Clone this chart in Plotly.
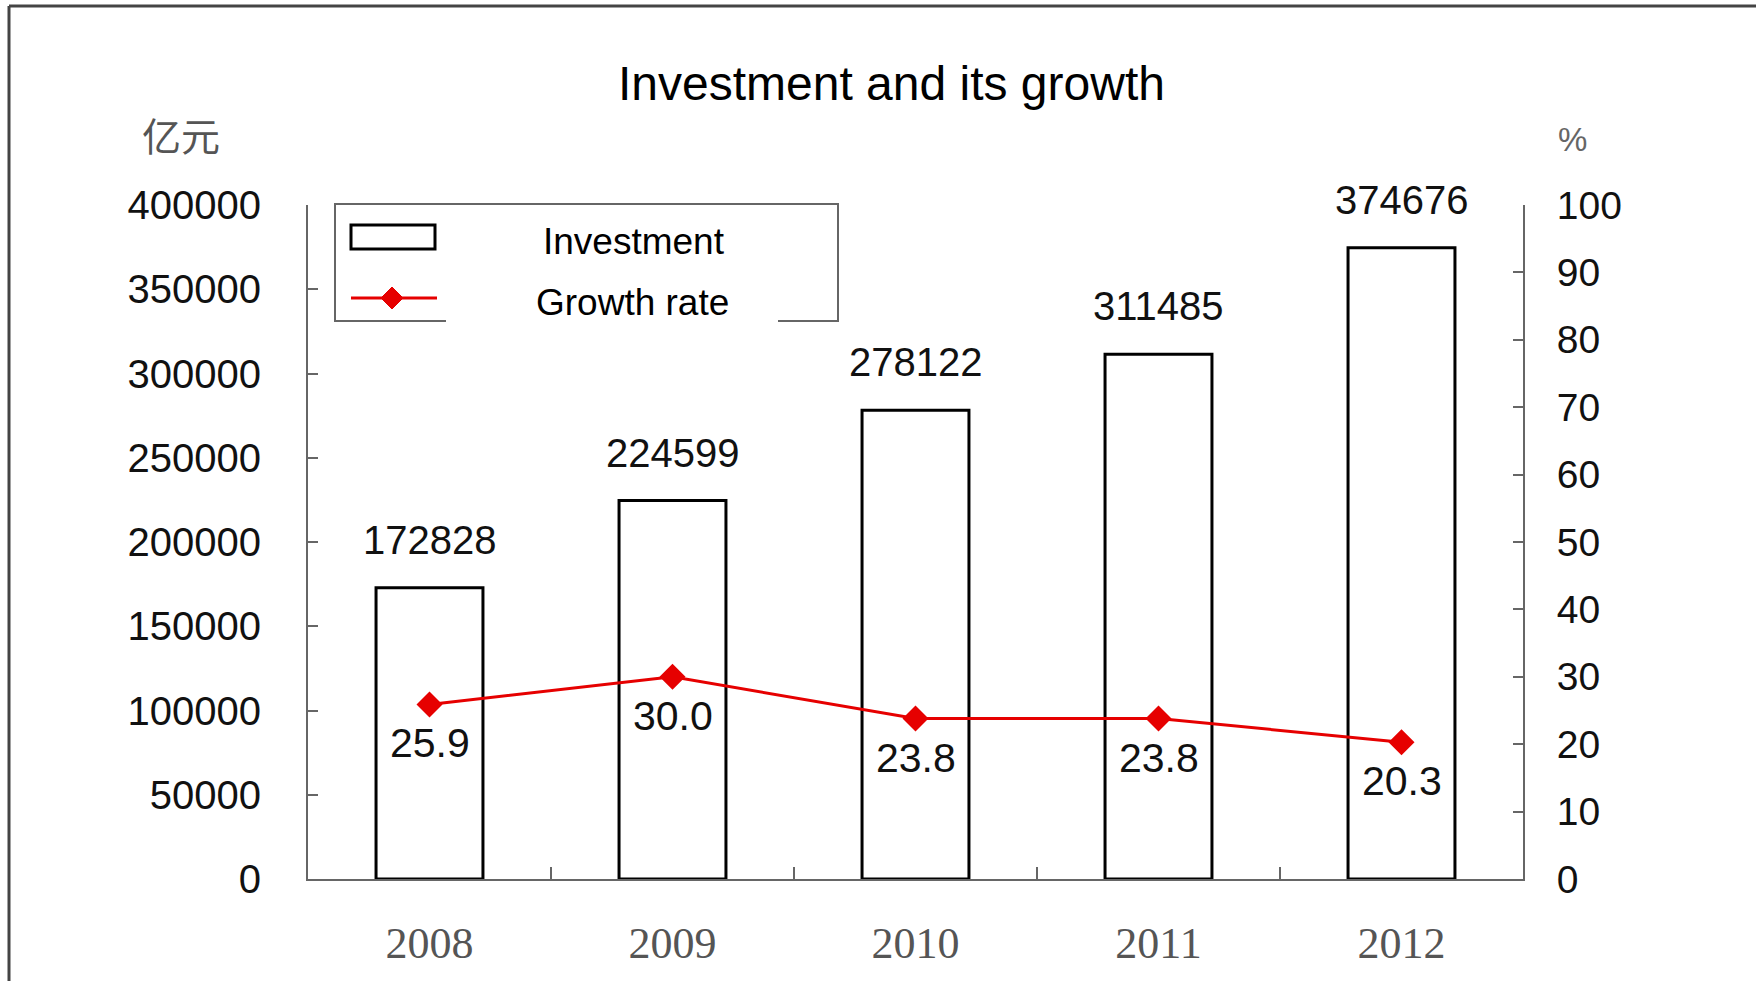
import plotly.graph_objects as go

# Data
years = ["2008", "2009", "2010", "2011", "2012"]
investment = [172828, 224599, 278122, 311485, 374676]   # 亿元
growth = [25.9, 30.0, 23.8, 23.8, 20.3]                  # %
left_ticks = [0, 50000, 100000, 150000, 200000, 250000, 300000, 350000, 400000]
right_ticks = [0, 10, 20, 30, 40, 50, 60, 70, 80, 90, 100]

# Canvas and plot-area geometry (pixels)
W, H = 1756, 981
L, R, T, B = 308, 233, 205, 102
PW, PH = W - L - R, H - T - B


def px(x):
    return (x - L) / PW


def py(y):
    return (H - B - y) / PH


SANS = "Arial, Liberation Sans, sans-serif"
AXIS_GREY = "#666666"
RED = "#e60000"

fig = go.Figure()

fig.add_trace(go.Bar(
    x=years, y=investment, name="Investment",
    marker=dict(color="white", line=dict(color="black", width=3)),
    showlegend=False,
))

fig.add_trace(go.Scatter(
    x=years, y=growth, name="Growth rate", yaxis="y2",
    mode="lines+markers",
    line=dict(color=RED, width=3),
    marker=dict(symbol="diamond", size=20, color=RED),
    showlegend=False, cliponaxis=False,
))

annotations = []

# Value labels above bars (category axis: annotations use the category index)
for i, v in enumerate(investment):
    annotations.append(dict(
        x=i, y=v, xref="x", yref="y", text=str(v), showarrow=False,
        yanchor="middle", yshift=48,
        font=dict(family=SANS, size=40, color="#111111"),
    ))

# Growth-rate labels below the markers
for i, g in enumerate(growth):
    annotations.append(dict(
        x=i, y=g, xref="x", yref="y2", text=f"{g:.1f}", showarrow=False,
        yanchor="middle", yshift=-39,
        font=dict(family=SANS, size=41, color="#111111"),
    ))

# Title and axis units
annotations += [
    dict(x=px(891), y=py(84), xref="paper", yref="paper",
         text="Investment and its growth", showarrow=False,
         xanchor="center", yanchor="middle",
         font=dict(family=SANS, size=48, color="#000000")),
    dict(x=px(181), y=py(134), xref="paper", yref="paper",
         text="亿元", showarrow=False, xanchor="center", yanchor="middle",
         font=dict(family="Noto Sans CJK SC", size=39, color="#555555")),
    dict(x=px(1572), y=py(140), xref="paper", yref="paper",
         text="%", showarrow=False, xanchor="center", yanchor="middle",
         font=dict(family=SANS, size=33, color="#666666")),
]

# Legend entries
annotations += [
    dict(x=px(634), y=py(242), xref="paper", yref="paper",
         text="Investment", showarrow=False, xanchor="center", yanchor="middle",
         font=dict(family=SANS, size=37, color="#000000")),
    dict(x=px(632), y=py(302), xref="paper", yref="paper",
         text="Growth rate", showarrow=False, xanchor="center", yanchor="middle",
         font=dict(family=SANS, size=37, color="#000000")),
]

shapes = [
    # outer frame (top and left edges)
    dict(type="line", xref="paper", yref="paper",
         x0=px(9), x1=px(W + 5), y0=py(6), y1=py(6),
         line=dict(color="#444444", width=3)),
    dict(type="line", xref="paper", yref="paper",
         x0=px(9), x1=px(9), y0=py(6), y1=py(H + 5),
         line=dict(color="#444444", width=3)),
    # legend box
    dict(type="rect", xref="paper", yref="paper",
         x0=px(335), x1=px(838), y0=py(204), y1=py(321),
         line=dict(color="#666666", width=2), fillcolor="white", layer="above"),
    # white label patch over the lower legend edge
    dict(type="rect", xref="paper", yref="paper",
         x0=px(446), x1=px(778), y0=py(282), y1=py(327),
         line=dict(width=0), fillcolor="white", layer="above"),
    # legend symbol: bar
    dict(type="rect", xref="paper", yref="paper",
         x0=px(351), x1=px(435), y0=py(225), y1=py(249),
         line=dict(color="black", width=3), fillcolor="white", layer="above"),
    # legend symbol: line
    dict(type="line", xref="paper", yref="paper",
         x0=px(351), x1=px(437), y0=py(298), y1=py(298),
         line=dict(color=RED, width=3), layer="above"),
    # legend symbol: diamond marker
    dict(type="path", xref="paper", yref="paper",
         path=(f"M {px(392)},{py(287)} L {px(403)},{py(298)} "
               f"L {px(392)},{py(309)} L {px(381)},{py(298)} Z"),
         line=dict(color=RED, width=1), fillcolor=RED, layer="above"),
]

fig.update_layout(
    width=W, height=H,
    margin=dict(l=L, r=R, t=T, b=B, pad=0, autoexpand=False),
    paper_bgcolor="white", plot_bgcolor="white",
    bargap=0.56,
    showlegend=False,
    xaxis=dict(
        type="category", range=[-0.5, 4.5], automargin=False,
        showline=True, linecolor=AXIS_GREY, linewidth=2,
        ticks="inside", tickson="boundaries", ticklen=12,
        tickcolor=AXIS_GREY, tickwidth=2,
        showgrid=False, zeroline=False,
        tickfont=dict(family="Liberation Serif, serif", size=44, color="#555555"),
        ticklabelstandoff=24,
    ),
    yaxis=dict(
        range=[0, 400000], tickvals=left_ticks, automargin=False,
        ticktext=[str(t) for t in left_ticks],
        showline=True, linecolor=AXIS_GREY, linewidth=2,
        ticks="inside", ticklen=10, tickcolor=AXIS_GREY, tickwidth=2,
        showgrid=False, zeroline=False,
        tickfont=dict(family=SANS, size=40, color="#111111"),
        ticklabelstandoff=37,
    ),
    yaxis2=dict(
        range=[0, 100], tickvals=right_ticks, automargin=False,
        overlaying="y", side="right",
        showline=True, linecolor=AXIS_GREY, linewidth=2,
        ticks="inside", ticklen=10, tickcolor=AXIS_GREY, tickwidth=2,
        showgrid=False, zeroline=False,
        tickfont=dict(family=SANS, size=39, color="#111111"),
        ticklabelstandoff=24,
    ),
    annotations=annotations,
    shapes=shapes,
)

fig.write_html("out.html")
